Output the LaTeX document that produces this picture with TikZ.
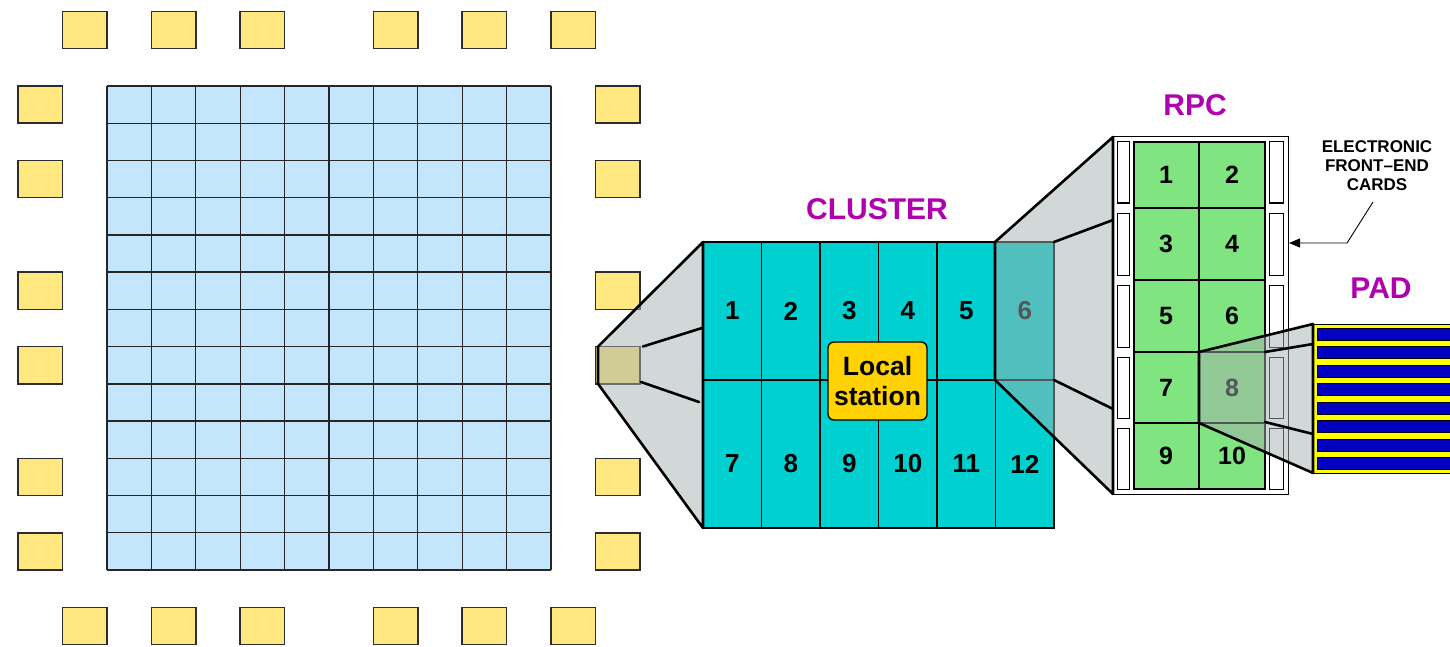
\documentclass[tikz,border=0pt]{standalone}
\usepackage{fontspec}
\setmainfont{Liberation Sans}
\usetikzlibrary{arrows.meta}
\definecolor{gridblue}{RGB}{196,230,252}
\definecolor{padyel}{RGB}{255,232,128}
\definecolor{clteal}{RGB}{0,208,208}
\definecolor{lsgold}{RGB}{255,210,0}
\definecolor{rpcgreen}{RGB}{128,228,128}
\definecolor{stripblue}{RGB}{0,0,192}
\definecolor{stripyel}{RGB}{255,255,0}
\definecolor{labmag}{RGB}{176,0,176}
\definecolor{conegrey}{RGB}{165,175,175}
\definecolor{sqedge}{RGB}{45,45,45}
\begin{document}
\begin{tikzpicture}[x=1pt,y=-1pt,
  gridline/.style={draw=black!85,line width=1.35pt},
  padsq/.style={fill=padyel,draw=sqedge,line width=1.5pt},
  thinblk/.style={draw=black,line width=1.2pt},
  clnum/.style={font=\fontsize{26}{30}\selectfont\bfseries,inner sep=0pt},
  rpcnum/.style={font=\fontsize{25}{28}\selectfont\bfseries,inner sep=0pt},
  lab/.style={font=\fontsize{30}{34}\selectfont\bfseries,text=labmag,inner sep=0pt},
  slot/.style={fill=white,draw=black,line width=1pt},
  conefill/.style={fill=conegrey,fill opacity=0.5},
  coneedge/.style={draw=black,line width=2.6pt,line join=round,line cap=round},
  fecarrow/.style={draw=black,line width=0.9pt,-{Triangle[length=11pt,width=9pt]}},
  lsbox/.style={fill=lsgold,draw=black,line width=1.3pt,rounded corners=6pt,
    minimum width=99pt,minimum height=78pt,align=center,inner sep=0pt,
    font=\fontsize{26.5}{29.5}\selectfont\bfseries}
]
\useasboundingbox (0,0) rectangle (1450,647);

% ---------- detector grid ----------
\fill[gridblue] (107,86) rectangle (551,570);
\foreach \i in {0,...,10} \draw[gridline] ({107+44.4*\i},86) -- ({107+44.4*\i},570);
\foreach \j in {0,...,13} \draw[gridline] (107,{86+37.23*\j}) -- (551,{86+37.23*\j});

% ---------- surrounding squares ----------
\foreach \c in {-1,1,3,6,8,10} {
  \draw[padsq] ({107+44.4*\c},11.5) rectangle +(44.4,37.2);
  \draw[padsq] ({107+44.4*\c},607.3) rectangle +(44.4,37.2);
}
\foreach \r in {0,2,5,7,10,12} {
  \draw[padsq] (18.2,{86+37.23*\r}) rectangle +(44.4,37.2);
  \draw[padsq] (595.4,{86+37.23*\r}) rectangle +(44.4,37.2);
}

% ---------- cluster ----------
\fill[clteal] (703,242) rectangle (1054,528);
\draw[thinblk] (703,242) rectangle (1054,528);
\foreach \i in {1,...,5} \draw[thinblk] ({703+58.5*\i},242) -- ({703+58.5*\i},528);
\draw[thinblk] (703,380) -- (1054,380);
\foreach \n in {1,...,6} \node[clnum] (cn\n) at ({703+58.5*(\n-0.5)},311) {\n};
\foreach \n in {7,...,12} \node[clnum] (cn\n) at ({703+58.5*(\n-6.5)},464) {\n};
\node[lsbox] (ls) at (877.5,381) {Local\\station};

% ---------- RPC ----------
\draw[fill=white,draw=black,line width=1pt] (1113,137) rectangle (1288,494);
\foreach \a/\b in {142/203,213/275,285/347,357/418,428/489} {
  \draw[slot] (1117,\a) rectangle (1129.5,\b);
  \draw[slot] (1269.5,\a) rectangle (1283,\b);
}
\fill[rpcgreen] (1134,142) rectangle (1265,489);
\draw[thinblk] (1134,142) rectangle (1265,489);
\foreach \y in {208,280,352,423} \draw[thinblk] (1134,\y) -- (1265,\y);
\draw[thinblk] (1199,142) -- (1199,489);
\foreach \n/\x/\y in {1/1166/175,2/1232/175,3/1166/244,4/1232/244,5/1166/316,6/1232/316,7/1166/387.5,8/1232/387.5,9/1166/456,10/1232/456}
  \node[rpcnum] (rn\n) at (\x,\y) {\n};

% ---------- PAD ----------
\draw[fill=stripyel,draw=black,line width=1pt] (1313,324) rectangle (1470,473);
\foreach \k in {0,...,7}
  \draw[fill=stripblue,draw=black,line width=0.9pt] (1317.5,{328.3+18.45*\k}) rectangle (1470,{340.3+18.45*\k});

% ---------- cones ----------
\fill[conefill] (598,346.6) -- (703,242) -- (703,528) -- (598,383.8) -- cycle;
\draw[coneedge] (598,383.8) -- (598,346.6) -- (703,242) -- (703,528) -- cycle;
\draw[coneedge] (643,346.5) -- (702,328);
\draw[coneedge] (641,382) -- (699,402);

\fill[conefill] (995,242) -- (1113,137) -- (1113,494) -- (995,380) -- cycle;
\draw[coneedge] (995,380) -- (995,242) -- (1113,137) -- (1113,494) -- cycle;
\draw[coneedge] (1054,242) -- (1113,220);
\draw[coneedge] (1054,380) -- (1113,409);

\fill[conefill] (1199,352) -- (1313,324) -- (1313,473) -- (1199,423) -- cycle;
\draw[coneedge] (1199,423) -- (1199,352) -- (1313,324) -- (1313,473) -- cycle;
\draw[coneedge] (1265,352) -- (1313,344);
\draw[coneedge] (1265,422) -- (1313,434);

% ---------- labels ----------
\node[lab] (lcluster) at (877,209) {CLUSTER};
\node[lab] (lrpc) at (1195,105) {RPC};
\node[lab] (lpad) at (1381,288.5) {PAD};
\node[font=\fontsize{17}{19}\selectfont\bfseries,align=center,inner sep=0pt] (fec) at (1377,166) {ELECTRONIC\\FRONT–END\\CARDS};
\coordinate (fecstart) at (1373,202);
\coordinate (fecbend) at (1347,243);
\coordinate (fectip) at (1289,243);
\draw[fecarrow] (fecstart) -- (fecbend) -- (fectip);
\end{tikzpicture}
\end{document}
